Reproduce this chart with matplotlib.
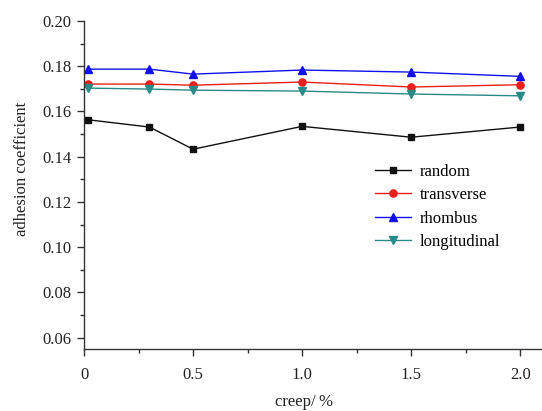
import matplotlib
matplotlib.use("Agg")
import matplotlib.pyplot as plt
from matplotlib.ticker import MultipleLocator, FormatStrFormatter

creep = [0.02, 0.3, 0.5, 1.0, 1.5, 2.0]
random_vals = [0.1563, 0.1531, 0.1433, 0.1534, 0.1486, 0.1531]
transverse_vals = [0.1721, 0.1721, 0.1716, 0.1730, 0.1708, 0.1718]
rhombus_vals = [0.1787, 0.1787, 0.1765, 0.1783, 0.1774, 0.1755]
longitudinal_vals = [0.1703, 0.1699, 0.1694, 0.1690, 0.1677, 0.1669]
x_ticks = [0, 0.5, 1.0, 1.5, 2.0]
x_tick_labels = ["0", "0.5", "1.0", "1.5", "2.0"]

plt.rcParams['font.family'] = ['Liberation Serif', 'DejaVu Serif']

fig = plt.figure(figsize=(5.42, 4.11), dpi=100)
ax = fig.add_axes([0.155, 0.151, 0.845, 0.798])

series = [
    ("random", random_vals, "#111111", "s", 4.6),
    ("transverse", transverse_vals, "#e8201c", "o", 5.2),
    ("rhombus", rhombus_vals, "#1010ee", "^", 5.4),
    ("longitudinal", longitudinal_vals, "#2a8a88", "v", 5.4),
]
for name, vals, col, mk, ms in series:
    ax.plot(creep, vals, color=col, marker=mk, markersize=ms, linewidth=1.0,
            label=name, clip_on=False)

ax.set_xlim(0, 2.1)
ax.set_xticks(x_ticks)
ax.set_xticklabels(x_tick_labels)
ax.xaxis.set_minor_locator(MultipleLocator(0.25))
ax.yaxis.set_major_locator(MultipleLocator(0.02))
ax.yaxis.set_minor_locator(MultipleLocator(0.01))
ax.yaxis.set_major_formatter(FormatStrFormatter('%.2f'))
ax.set_ylim(0.055, 0.20)

for s in ['top', 'right']:
    ax.spines[s].set_visible(False)
for s in ['left', 'bottom']:
    ax.spines[s].set_color('#333333')
    ax.spines[s].set_linewidth(1.0)

ax.tick_params(which='major', direction='out', length=5, width=1, color='#333333',
               labelsize=12, labelcolor='#222222', pad=4)
ax.tick_params(axis='x', which='major', pad=8)
ax.tick_params(which='minor', direction='out', length=3, width=1, color='#333333')

ax.set_xlabel("creep/\u2009%", fontsize=12, color='#222222')
ax.set_ylabel("adhesion coefficient", fontsize=12, color='#222222')
ax.xaxis.set_label_coords(0.48, -0.136)
ax.yaxis.set_label_coords(-0.118, 0.549)

leg = ax.legend(loc='upper left', bbox_to_anchor=(0.62, 0.585), frameon=False,
                fontsize=12, handlelength=2.2, handletextpad=0.5, labelspacing=0.45,
                borderaxespad=0)

fig.savefig("out.png", dpi=100)
